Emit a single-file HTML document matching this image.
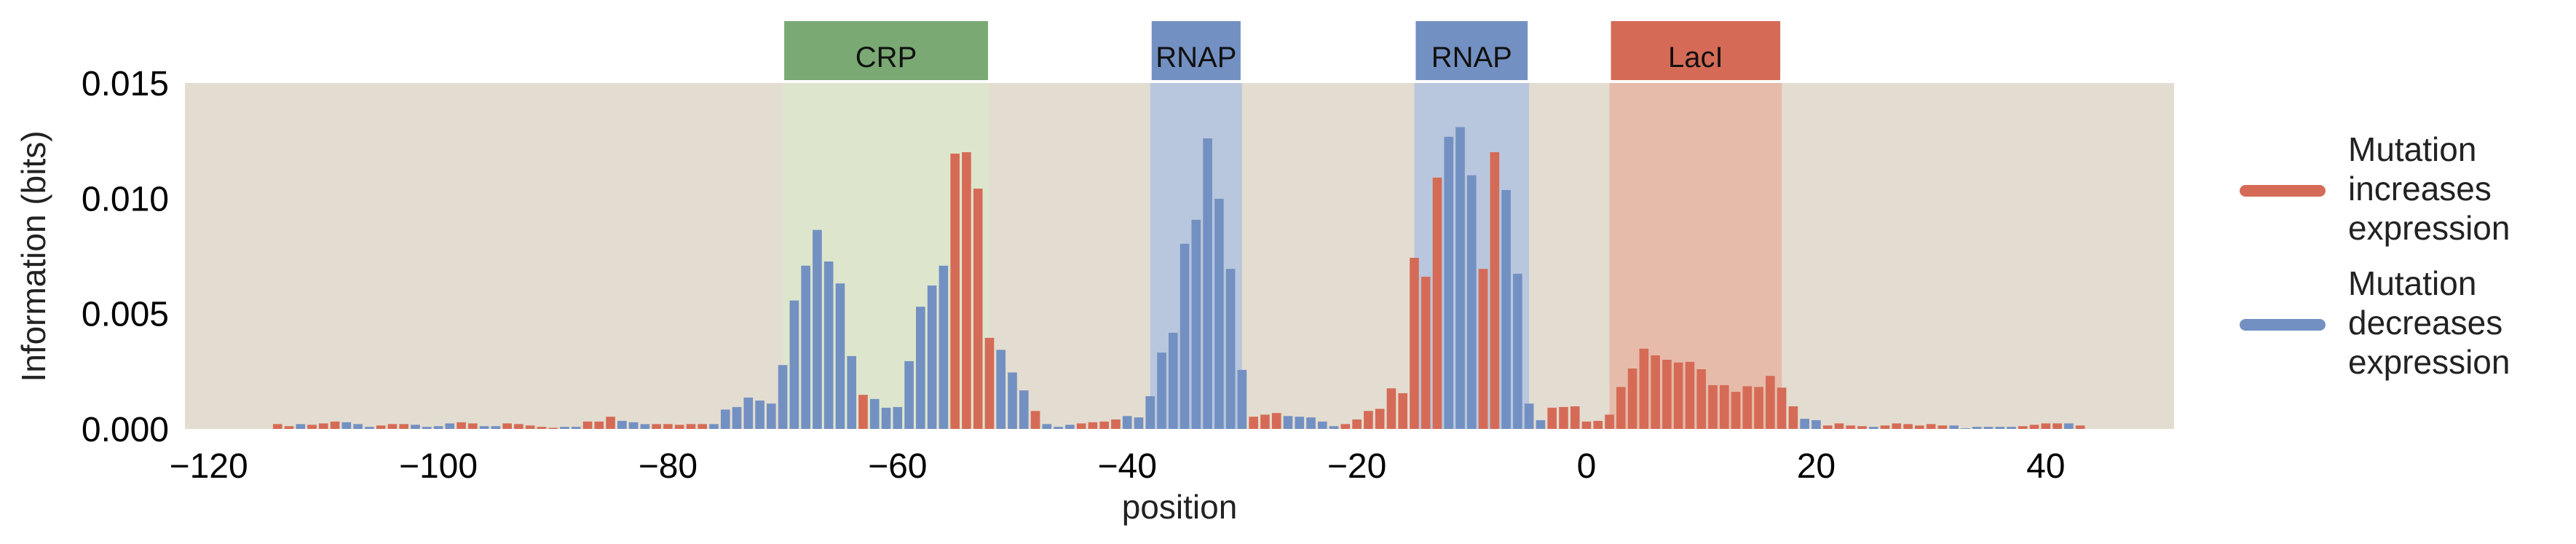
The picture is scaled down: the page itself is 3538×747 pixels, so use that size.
<!DOCTYPE html>
<html><head><meta charset="utf-8"><style>
html,body{margin:0;padding:0;background:#fff;}
svg{display:block;font-family:"Liberation Sans",sans-serif;}
</style></head><body>
<svg id="chart" width="3538" height="747" viewBox="0 0 3538 747" xmlns="http://www.w3.org/2000/svg">
<rect x="254" y="114" width="2732" height="475" fill="#e3dcd0"/>
<g id="regions"></g>
<g id="bars"></g>
<g id="ticks"></g>
<text x="1620" y="712" font-size="46" fill="#222" text-anchor="middle">position</text>
<text transform="translate(62,352) rotate(-90)" font-size="46" fill="#222" text-anchor="middle">Information (bits)</text>
<g>
<line x1="3084" y1="262" x2="3186" y2="262" stroke="#d56b56" stroke-width="16" stroke-linecap="round"/>
<text x="3225" y="221" font-size="46" fill="#222"><tspan x="3225">Mutation</tspan><tspan x="3225" dy="54">increases</tspan><tspan x="3225" dy="54">expression</tspan></text>
<line x1="3084" y1="446" x2="3186" y2="446" stroke="#7390c2" stroke-width="16" stroke-linecap="round"/>
<text x="3225" y="405" font-size="46" fill="#222"><tspan x="3225">Mutation</tspan><tspan x="3225" dy="54">decreases</tspan><tspan x="3225" dy="54">expression</tspan></text>
</g>
</svg>
<script>
const positions = [];
for (let p = -114; p <= 43; p++) positions.push(p);
const values = [
0.00021,0.00012,0.00021,0.00018,0.00024,0.00032,0.00029,0.00021,0.00009,0.00015,0.00021,0.00021,0.00018,0.00009,0.00012,0.00024,0.00029,0.00024,0.00012,0.00012,0.00024,0.00021,0.00015,0.00009,0.00005,0.00009,0.00009,0.00032,0.00032,0.00053,0.00035,0.00029,0.00021,0.00021,0.00021,0.00018,0.00021,0.00021,0.00021,0.00084,0.00095,0.00136,0.00123,0.0011,0.00277,0.00557,
0.00708,0.00863,0.00726,0.00631,0.00316,0.00148,0.0013,0.00092,0.00095,0.00294,0.0053,0.00622,0.00708,0.01194,0.012,0.01042,0.00395,0.00343,0.00245,0.00167,0.00078,0.00021,0.00009,0.00018,0.00024,0.00029,0.00032,0.00041,0.00056,0.0005,0.00142,0.00331,0.00417,0.00803,0.00907,0.0126,0.00998,0.00694,0.00256,0.00053,0.00062,0.00069,0.00056,0.00053,0.0005,0.00032,0.00012,0.00021,0.00041,0.00078,0.00087,0.00176,0.00155,0.00742,0.0066,0.0109,0.01267,0.01309,0.011,0.00694,0.012,
0.01036,0.00673,0.0011,0.00038,0.00092,0.00095,0.00098,0.00032,0.00035,0.00062,0.00182,0.00262,0.00348,0.00319,0.003,0.00288,0.00291,0.00259,0.0019,0.0019,0.00161,0.00185,0.00182,0.0023,0.00179,0.00098,0.00044,0.00038,0.00015,0.00024,0.00015,0.00012,0.00009,0.00015,0.00024,0.00021,0.00015,0.00021,0.00015,0.00015,0.00003,0.00009,0.00009,0.00009,0.00009,0.00012,0.00018,0.00024,0.00024,0.00024,0.00015];
const effects = ("rrbrrrbbbrrrbbbbrrbbrrrrrbbrrrbbbrrrrrbbbbbbbb" +
"bbbbb" + "r" + "bbbbbbb" + "rrrr" + "bbb" + "r" + "bbb" + "rrrr" + "bbbbbbbbbbb" + "rrr" + "bbbbb" + "rrrrrrrrr" + "bbb" + "rr" +
"bbbb" + "rrrrrrrrrrrrrrrrrrrrrr" + "bb" + "rrrr" + "b" + "rrrrrr" + "bbbbbb" + "rrrr" + "b" + "r").split("");
const regionNames = ["CRP","RNAP","RNAP","LacI"];
const regionStarts = [-70,-38,-15,2];
const regionEnds = [-52,-30,-5,17];
const regionKinds = ["crp","rnap","rnap","laci"];
const xTicks = [-120,-100,-80,-60,-40,-20,0,20,40];
const yTicks = [0,0.005,0.010,0.015];
const yTickLabels = ["0.000","0.005","0.010","0.015"];

const NS = "http://www.w3.org/2000/svg";
const X = p => 2179 + p * 15.77;
const Y = v => 589 - v * 31667;
const colors = {r:"#d56b56", b:"#7390c2"};
const shade = {crp:"#dde6cc", rnap:"#b9c7de", laci:"#e6bbaa"};
const boxFill = {crp:"#7aa974", rnap:"#7390c2", laci:"#d56b56"};

function mk(tag, attrs, parent){
  const el = document.createElementNS(NS, tag);
  for (const k in attrs) el.setAttribute(k, attrs[k]);
  parent.appendChild(el);
  return el;
}
const gR = document.getElementById("regions");
regionNames.forEach((n,i)=>{
  const x1 = X(regionStarts[i]), x2 = X(regionEnds[i]);
  const s = mk("rect",{x:x1,y:114,width:x2-x1,height:475,fill:shade[regionKinds[i]]},gR);
  
  
  const b = mk("rect",{x:x1+2,y:29,width:x2-x1-4,height:81,fill:boxFill[regionKinds[i]]},gR);
  
  
  const t = mk("text",{x:(x1+x2)/2,y:92,"font-size":40,"text-anchor":"middle",fill:"#111"},gR);
  t.textContent = n;
  
  
});
const gB = document.getElementById("bars");
positions.forEach((p,i)=>{
  const v = values[i];
  const r = mk("rect",{x:X(p-0.4),y:Y(v),width:X(0.8)-X(0),height:Y(0)-Y(v),fill:colors[effects[i]] || colors.r},gB);
  
  
});
const gT = document.getElementById("ticks");
xTicks.forEach(t=>{
  const el = mk("text",{x:X(t),y:656,"font-size":48,"text-anchor":"middle",fill:"#000"},gT);
  el.textContent = (t<0?"\u2212"+(-t):String(t));
  
  
});
yTicks.forEach((t,i)=>{
  const el = mk("text",{x:232,y:Y(t)+17,"font-size":48,"text-anchor":"end",fill:"#000"},gT);
  el.textContent = yTickLabels[i];
  
  
});
</script>
</body></html>
